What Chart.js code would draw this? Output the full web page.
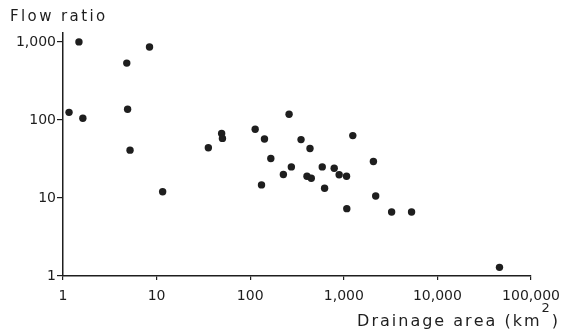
<!DOCTYPE html>
<html>
<head>
<meta charset="utf-8">
<style>
    html, body { margin: 0; padding: 0; background: #fff; }
    #wrap { width: 568px; height: 332px; }
</style>
<script src="https://cdn.jsdelivr.net/npm/chart.js@4"></script>
</head>
<body>
<div id="wrap"><canvas id="flowChart" width="568" height="332"></canvas></div>
<script>
// drainage area (km2) and flow ratio for each station
const areaKm2 = [1.16, 1.48, 1.63, 4.8, 4.9, 5.2, 8.4, 11.6, 35.7, 49.5, 50.5, 113, 132, 142, 166, 226, 260, 275,
    349, 404, 435, 449, 588, 623, 789, 891, 1069, 1076, 1247, 2070, 2190, 3240, 5290, 46000];
const flowRatio = [125, 1000, 105, 535, 137, 41, 860, 12, 44, 67, 58, 76, 14.7, 57, 32, 20, 118, 25,
    56, 19, 43, 17.9, 25, 13.3, 24, 19.8, 19, 7.3, 63, 29.3, 10.6, 6.6, 6.6, 1.29];

const xTicks = [1, 10, 100, 1000, 10000, 100000];
const yTicks = [1, 10, 100, 1000];

const ink = '#1e1e1e';
const tickFont = { family: 'DejaVu Sans', size: 14 };

const points = areaKm2.map((a, i) => ({ x: a, y: flowRatio[i] }));

// letter-spaced text, one glyph at a time
function spacedWidth(c, text, gap) {
    let w = 0;
    for (const ch of text) w += c.measureText(ch).width + gap;
    return w;
}
function spacedText(c, text, x, y, gap) {
    for (const ch of text) {
        c.fillText(ch, x, y);
        x += c.measureText(ch).width + gap;
    }
    return x;
}

// axis titles sit outside the plot, so draw them by hand
const axisTitles = {
    id: 'axisTitles',
    afterDraw(chart) {
        const c = chart.ctx;
        c.save();
        c.fillStyle = ink;
        c.textBaseline = 'alphabetic';
        c.textAlign = 'left';
        c.font = '15px "DejaVu Sans"';
        spacedText(c, 'Flow ratio', 10, 21, 2.4);

        // Drainage area (km²) with a raised 2
        const main = 'Drainage area (km';
        const big = '16px "DejaVu Sans"';
        const small = '13px "DejaVu Sans"';
        c.font = big;
        const mainW = spacedWidth(c, main, 2);
        const closeW = c.measureText(')').width;
        c.font = small;
        const supW = c.measureText('2').width + 2;
        let x = 558 - closeW - supW - mainW;
        c.font = big;
        x = spacedText(c, main, x, 326, 2);
        c.font = small;
        x = spacedText(c, '2', x, 312, 2);
        c.font = big;
        c.fillText(')', x, 326);
        c.restore();
    }
};

const ctx = document.getElementById('flowChart').getContext('2d');
const flowChart = new Chart(ctx, {
    type: 'scatter',
    data: {
        datasets: [{
            label: 'Flow ratio',
            data: points,
            backgroundColor: ink,
            borderWidth: 0,
            pointRadius: 3.7,
            pointHoverRadius: 3.7
        }]
    },
    options: {
        responsive: false,
        animation: false,
        events: [],
        layout: { padding: { left: 0, right: 34, top: 33, bottom: 0 } },
        plugins: {
            legend: { display: false },
            tooltip: { enabled: false }
        },
        scales: {
            x: {
                type: 'logarithmic',
                min: 1,
                max: 100000,
                afterBuildTicks: s => { s.ticks = xTicks.map(v => ({ value: v })); },
                afterFit: s => { s.height = 56; },
                ticks: {
                    color: ink,
                    font: tickFont,
                    padding: 8,
                    maxRotation: 0,
                    callback: v => v.toLocaleString('en-US')
                },
                grid: { drawOnChartArea: false, drawTicks: true, tickLength: 4, color: ink, lineWidth: 1.2 },
                border: { display: true, color: ink, width: 1.5 }
            },
            y: {
                type: 'logarithmic',
                min: 1,
                max: 1300,
                afterBuildTicks: s => { s.ticks = yTicks.map(v => ({ value: v })); },
                afterFit: s => { s.width = 63; },
                ticks: {
                    color: ink,
                    font: tickFont,
                    padding: 1,
                    callback: v => v.toLocaleString('en-US')
                },
                grid: { drawOnChartArea: false, drawTicks: true, tickLength: 6, color: ink, lineWidth: 1.2 },
                border: { display: true, color: ink, width: 1.5 }
            }
        }
    },
    plugins: [axisTitles]
});
</script>
</body>
</html>
